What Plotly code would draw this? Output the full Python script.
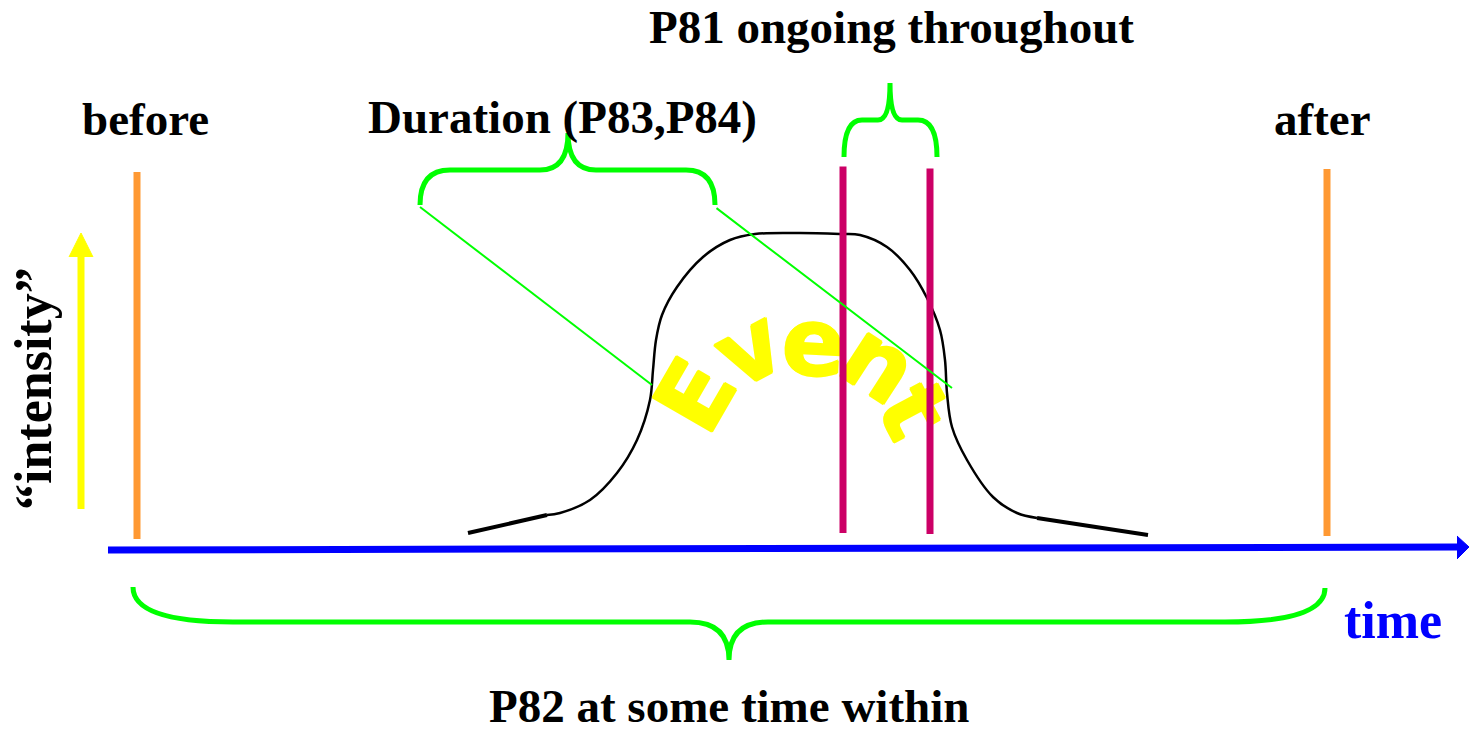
import plotly.graph_objects as go

W, H = 1469, 731

# ---- data (diagram coordinates) ----
event_x = [547, 560, 590, 617, 637, 650, 653, 656, 662, 677, 703, 730, 755, 800, 840, 860, 887, 910, 927, 940, 945, 947, 952, 967, 993, 1017, 1037]
event_y = [515, 513, 500, 473, 440, 400, 370, 340, 315, 287, 257, 240, 234, 233, 234, 235, 247, 270, 298, 330, 360, 393, 427, 460, 497, 513, 518]
tail_left_x = [468, 547]
tail_left_y = [533, 515]
tail_right_x = [1037, 1148]
tail_right_y = [518, 535]

time_axis_x = [108, 1457]
time_axis_y = [550, 547]
time_head_x = [1457, 1469, 1457]
time_head_y = [536, 547, 559]

intensity_x = [81, 81]
intensity_y = [509, 255]
intensity_head_x = [69, 81, 93]
intensity_head_y = [257, 233, 257]

bound_x = [137, 1327]            # before / after
bound_top = [172, 169]
bound_bottom = [539, 536]

ongoing_x = [843, 930]           # P81 markers
ongoing_top = [165, 167]
ongoing_bottom = [533, 534]

link_x0 = [420, 715]
link_y0 = [207, 207]
link_x1 = [652, 952]
link_y1 = [385, 388]

event_letters = ["E", "v", "e", "n", "t"]
letter_x = [695, 748, 814, 879, 914]
letter_y = [395, 348, 342, 362, 410]
letter_angle = [-60, -28, 3, 33, 62]

labels = ["before", "after", "Duration (P83,P84)", "P81 ongoing throughout", "P82 at some time within"]
label_x = [145, 1322, 562, 891, 729]
label_y = [119, 119, 117, 27, 706]

ORANGE = "#FF9933"
MAGENTA = "#CC0066"
GREEN = "#00FF00"
BLUE = "#0000FF"
YELLOW = "#FFFF00"

fig = go.Figure()

# event curve
fig.add_trace(go.Scatter(x=event_x, y=event_y, mode="lines",
                         line=dict(color="black", width=2.5, shape="spline", smoothing=1.0),
                         hoverinfo="skip", showlegend=False))
for tx, ty in [(tail_left_x, tail_left_y), (tail_right_x, tail_right_y)]:
    fig.add_trace(go.Scatter(x=tx, y=ty, mode="lines", line=dict(color="black", width=4),
                             hoverinfo="skip", showlegend=False))

# before / after bounds
for bx, bt, bb in zip(bound_x, bound_top, bound_bottom):
    fig.add_trace(go.Scatter(x=[bx, bx], y=[bt, bb], mode="lines", line=dict(color=ORANGE, width=7),
                             hoverinfo="skip", showlegend=False))

# time axis
fig.add_trace(go.Scatter(x=time_axis_x, y=time_axis_y, mode="lines", line=dict(color=BLUE, width=7),
                         hoverinfo="skip", showlegend=False))
fig.add_trace(go.Scatter(x=time_head_x, y=time_head_y, mode="lines", fill="toself", fillcolor=BLUE,
                         line=dict(color=BLUE, width=1), hoverinfo="skip", showlegend=False))

# intensity arrow
fig.add_trace(go.Scatter(x=intensity_x, y=intensity_y, mode="lines", line=dict(color=YELLOW, width=7),
                         hoverinfo="skip", showlegend=False))
fig.add_trace(go.Scatter(x=intensity_head_x, y=intensity_head_y, mode="lines", fill="toself", fillcolor=YELLOW,
                         line=dict(color=YELLOW, width=1), hoverinfo="skip", showlegend=False))

# left link line
fig.add_trace(go.Scatter(x=[link_x0[0], link_x1[0]], y=[link_y0[0], link_y1[0]], mode="lines",
                         line=dict(color=GREEN, width=2), hoverinfo="skip", showlegend=False))

# braces
brace_paths = [
    "M 420 205 Q 420 170 450 170 L 540 170 Q 568 170 568 133 Q 568 170 596 170 L 686 170 Q 715 170 715 205",
    "M 844 157 Q 844 120 862 120 L 878 120 Q 890 120 890 83 Q 890 120 902 120 L 918 120 Q 937 120 937 157",
    "M 133 587 Q 133 622 233 622 L 690 622 Q 729 622 729 660 Q 729 622 768 622 L 1225 622 Q 1325 622 1325 588",
]
for p in brace_paths:
    fig.add_shape(type="path", path=p, xref="x", yref="y", line=dict(color=GREEN, width=5))

annotations = []
serif = dict(family="Liberation Serif, Times New Roman, serif", size=47, color="black", weight="bold")
for t, x, y in zip(labels, label_x, label_y):
    annotations.append(dict(x=x, y=y, xref="x", yref="y", text=t, showarrow=False, font=serif,
                            xanchor="center", yanchor="middle"))
annotations.append(dict(x=1393, y=620, xref="x", yref="y", text="time", showarrow=False,
                        font=dict(family="Liberation Serif, Times New Roman, serif", size=52, color=BLUE, weight="bold"),
                        xanchor="center", yanchor="middle"))
annotations.append(dict(x=33, y=389, xref="x", yref="y", text="\u201cintensity\u201d", showarrow=False, textangle=-90,
                        font=dict(family="Liberation Serif, Times New Roman, serif", size=52, color="black", weight="bold"),
                        xanchor="center", yanchor="middle"))
# Event letters
heavy = "1px 0 0 #FFFF00, -1px 0 0 #FFFF00, 0 1px 0 #FFFF00, 0 -1px 0 #FFFF00"
for ch, x, y, a in zip(event_letters, letter_x, letter_y, letter_angle):
    annotations.append(dict(x=x, y=y, xref="x", yref="y", text=ch, showarrow=False, textangle=a,
                            font=dict(family="DejaVu Sans, Arial, sans-serif", size=94, color=YELLOW,
                                      weight="bold", shadow=heavy),
                            xanchor="center", yanchor="middle"))
# lines drawn over the letters
for ox, ot, ob in zip(ongoing_x, ongoing_top, ongoing_bottom):
    annotations.append(dict(x=ox, y=ob, ax=ox, ay=ot, xref="x", yref="y", axref="x", ayref="y", text="",
                            showarrow=True, arrowhead=0, arrowwidth=7, arrowcolor=MAGENTA, standoff=0, startstandoff=0))
annotations.append(dict(x=link_x1[1], y=link_y1[1], ax=link_x0[1], ay=link_y0[1], xref="x", yref="y", axref="x", ayref="y",
                        text="", showarrow=True, arrowhead=0, arrowwidth=2, arrowcolor=GREEN, standoff=0, startstandoff=0))

fig.update_layout(
    width=W, height=H, margin=dict(l=0, r=0, t=0, b=0),
    paper_bgcolor="white", plot_bgcolor="white",
    xaxis=dict(range=[0, W], visible=False, showgrid=False, zeroline=False, fixedrange=True),
    yaxis=dict(range=[H, 0], visible=False, showgrid=False, zeroline=False, fixedrange=True),
    annotations=annotations,
    showlegend=False,
)

fig.write_html("out.html", config={"displayModeBar": False},
               post_script="document.body.style.margin='0';document.body.style.overflow='hidden';")
